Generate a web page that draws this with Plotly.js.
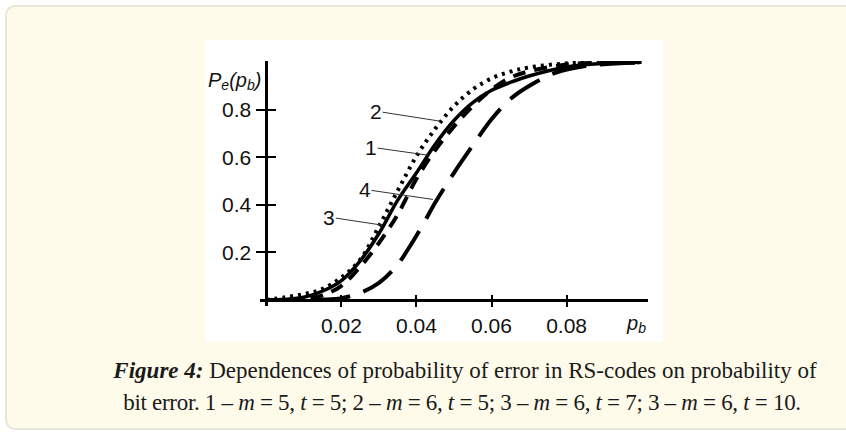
<!DOCTYPE html>
<html>
<head>
<meta charset="utf-8">
<script src="https://cdn.plot.ly/plotly-3.0.1.min.js"></script>
<style>
  html, body { margin:0; padding:0; background:#ffffff; width:846px; height:436px; overflow:hidden; }
  #panel { position:absolute; left:5px; top:5px; width:910px; height:425px; background:#fffbea; border:2px solid #e8e5da; border-radius:10px; box-sizing:border-box; }
  #imgbox { position:absolute; left:205px; top:40px; width:458px; height:302px; background:#ffffff; }
  #plot { position:absolute; left:0; top:0; width:846px; height:436px; }
  .cap { position:absolute; left:0; width:930px; text-align:center; font-family:"Liberation Serif","DejaVu Serif",serif; font-size:23px; line-height:26px; color:#1a1a1a; white-space:nowrap; }
  .axlab { position:absolute; font-family:"Liberation Sans",Arial,sans-serif; font-style:italic; font-size:20px; line-height:22px; color:#111; white-space:nowrap; }
  .axlab sub { font-size:14px; vertical-align:-3px; line-height:0; }
</style>
</head>
<body>
<div id="panel"></div>
<div id="imgbox"></div>
<div id="plot"></div>
<div class="axlab" id="ytitle" style="left:208px; top:69px;">P<sub>e</sub>(p<sub>b</sub>)</div>
<div class="axlab" id="xtitle" style="left:627px; top:312px;">p<sub>b</sub></div>
<div class="cap" id="cap1" style="top:358px;"><b><i>Figure 4:</i></b> Dependences of probability of error in RS-codes on probability of</div>
<div class="cap" id="cap2" style="top:390px; left:-3px; letter-spacing:-0.3px;">bit error. 1 – <i>m</i> = 5, <i>t</i> = 5; 2 – <i>m</i> = 6, <i>t</i> = 5; 3 – <i>m</i> = 6, <i>t</i> = 7; 3 – <i>m</i> = 6, <i>t</i> = 10.</div>
<script>
// ---- data ----
const pb = [0, 0.005, 0.01, 0.015, 0.02, 0.025, 0.03, 0.035, 0.04, 0.045, 0.05, 0.055, 0.06, 0.065, 0.07, 0.08, 0.09, 0.1];
const curve1 = [0, 0.003, 0.012, 0.038, 0.082, 0.165, 0.28, 0.42, 0.535, 0.655, 0.755, 0.83, 0.882, 0.915, 0.942, 0.98, 0.995, 1.0];
const curve2 = [0, 0.012, 0.025, 0.047, 0.095, 0.17, 0.31, 0.46, 0.605, 0.72, 0.815, 0.885, 0.932, 0.96, 0.978, 0.995, 1.0, 1.0];
const curve3 = [0, 0.001, 0.005, 0.02, 0.06, 0.14, 0.24, 0.36, 0.51, 0.63, 0.73, 0.815, 0.885, 0.935, 0.962, 0.99, 0.998, 1.0];
const pb4    = [0, 0.01, 0.015, 0.02, 0.025, 0.03, 0.035, 0.038, 0.042, 0.045, 0.05, 0.055, 0.06, 0.065, 0.07, 0.077, 0.085, 0.1];
const curve4 = [0, 0.0005, 0.002, 0.008, 0.03, 0.072, 0.15, 0.22, 0.325, 0.41, 0.535, 0.65, 0.76, 0.845, 0.9, 0.955, 0.984, 0.998];

const xTicks = [0.02, 0.04, 0.06, 0.08];
const xTickText = ["0.02", "0.04", "0.06", "0.08"];
const yTicks = [0.2, 0.4, 0.6, 0.8];
const yTickText = ["0.2", "0.4", "0.6", "0.8"];

const curveNames = ["1", "2", "3", "4"];
// label tips (on the curves) and text offsets in px
const labelTipX = [0.0431, 0.0463, 0.0309, 0.0444];
const labelTipY = [0.609, 0.752, 0.315, 0.423];
const labelAx = [-57, -64, -53, -68];
const labelAy = [-8, -10, -8, -10];

const xr = [-0.0017, 0.1017];
const yr = [-0.025, 1.005];
const xPosOfY = (0 - xr[0]) / (xr[1] - xr[0]);
const yPosOfX = (0 - yr[0]) / (yr[1] - yr[0]);

const lineBase = { color: '#000', shape: 'spline', smoothing: 1 };
const traces = [
  { x: pb, y: curve1, mode: 'lines', line: Object.assign({}, lineBase, { width: 3.5 }), name: '1' },
  { x: pb, y: curve2, mode: 'lines', line: Object.assign({}, lineBase, { width: 4, dash: '3px,5px' }), name: '2' },
  { x: pb, y: curve3, mode: 'lines', line: Object.assign({}, lineBase, { width: 4, dash: '13px,9px' }), name: '3' },
  { x: pb4, y: curve4, mode: 'lines', line: Object.assign({}, lineBase, { width: 4, dash: '35px,14px' }), name: '4' },
  { x: [null], y: [null], xaxis: 'x2', yaxis: 'y2', mode: 'lines', showlegend: false, hoverinfo: 'skip' }
];

const tickFont = { family: 'Liberation Sans, Arial, sans-serif', size: 21, color: '#111' };
const annotations = curveNames.map((n, i) => ({
  x: labelTipX[i], y: labelTipY[i], xref: 'x', yref: 'y',
  text: n, showarrow: true, arrowhead: 0, arrowwidth: 1, arrowcolor: '#333',
  ax: labelAx[i], ay: labelAy[i], font: tickFont, standoff: 0, borderpad: 0
}));

const layout = {
  width: 846, height: 436,
  margin: { l: 260.3, r: 198, t: 60.8, b: 130, pad: 0 },
  paper_bgcolor: 'rgba(0,0,0,0)', plot_bgcolor: 'rgba(0,0,0,0)',
  showlegend: false,
  xaxis: { range: xr, anchor: 'free', position: yPosOfX, showline: true, linewidth: 3, linecolor: '#000',
    ticks: 'outside', ticklen: 5, tickwidth: 2, tickcolor: '#000', tickvals: xTicks, ticktext: xTickText,
    tickfont: tickFont, showgrid: false, zeroline: false, ticklabelstandoff: 1 },
  yaxis: { range: yr, anchor: 'free', position: xPosOfY, showline: true, linewidth: 3, linecolor: '#000',
    ticks: 'outside', ticklen: 9, tickwidth: 2, tickcolor: '#000', tickvals: yTicks, ticktext: yTickText,
    tickfont: tickFont, showgrid: false, zeroline: false, ticklabelstandoff: 1 },
  xaxis2: { range: xr, overlaying: 'x', anchor: 'free', position: yPosOfX, showline: false,
    ticks: 'inside', ticklen: 5, tickwidth: 2, tickcolor: '#000', tickvals: xTicks, showticklabels: false,
    showgrid: false, zeroline: false },
  yaxis2: { range: yr, overlaying: 'y', anchor: 'free', position: xPosOfY, showline: false,
    ticks: 'inside', ticklen: 9, tickwidth: 2, tickcolor: '#000', tickvals: yTicks, showticklabels: false,
    showgrid: false, zeroline: false },
  annotations: annotations
};

Plotly.newPlot('plot', traces, layout, { staticPlot: true, displayModeBar: false }).then(() => {
  document.querySelectorAll('#plot svg text').forEach(t => {
    if (!t.textContent.replace(/[\s\u200b]/g, '')) t.remove();
  });
});
</script>
</body>
</html>
